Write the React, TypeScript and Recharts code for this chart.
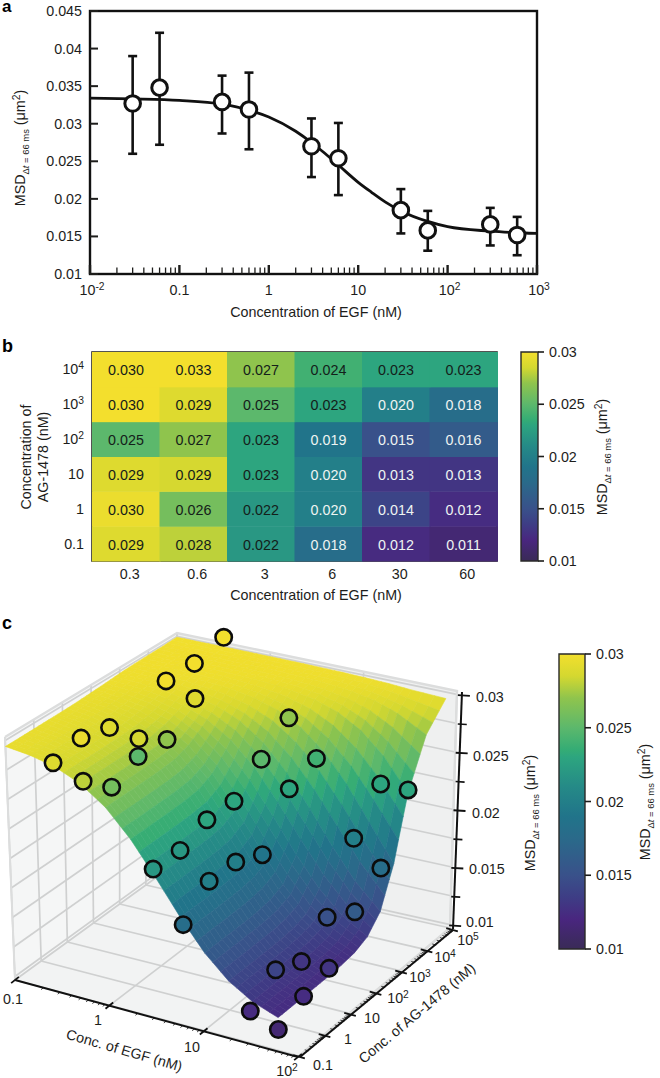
import React from 'react';
import { ComposedChart, BarChart, ScatterChart, Line, Bar, Scatter, XAxis, YAxis, ErrorBar, Customized } from 'recharts';

const FONT = '"Liberation Sans", Arial, sans-serif';
const INK = '#1d1d1b';

// ---------- Panel a ----------
const egfDose = [0.03, 0.06, 0.3, 0.6, 3, 6, 30, 60, 300, 600];
const msdMean = [0.0327, 0.0348, 0.0329, 0.0319, 0.027, 0.0254, 0.0185, 0.0158, 0.0166, 0.0152];
const msdHigh = [0.039, 0.0421, 0.0364, 0.0368, 0.0307, 0.0301, 0.0213, 0.0184, 0.0188, 0.0176];
const msdLow = [0.026, 0.0272, 0.0287, 0.0266, 0.0229, 0.0205, 0.0154, 0.0131, 0.0138, 0.0125];
const fitX = [0.01, 0.03, 0.1, 0.3, 0.6, 1, 2, 3, 4, 6, 10, 14, 20, 30, 60, 100, 300, 1000];
const fitY = [0.0334, 0.0333, 0.0331, 0.0326, 0.0318, 0.0309, 0.029, 0.0275, 0.0263, 0.0245, 0.0222, 0.0209, 0.0196, 0.0184, 0.017, 0.0163, 0.0157, 0.0154];
const aYTicks = [0.01, 0.015, 0.02, 0.025, 0.03, 0.035, 0.04, 0.045];
const aDecades = [0.01, 0.1, 1, 10, 100, 1000];
const aDecadeLabels: any = { 0.01: ['10', '-2'], 0.1: ['0.1'], 1: ['1'], 10: ['10'], 100: ['10', '2'], 1000: ['10', '3'] };
const minorFactors = [2, 3, 4, 5, 6, 7, 8, 9];
const aXTicks = [...aDecades, ...aDecades.slice(0, 5).flatMap((d) => minorFactors.map((m) => d * m))];

const pointsA = egfDose.map((x, i) => ({ x, y: msdMean[i], err: [msdMean[i] - msdLow[i], msdHigh[i] - msdMean[i]] }));
const curveA = fitX.map((x, i) => ({ x, y: fitY[i] }));

// ---------- Panel b ----------
const egfLabels = ['0.3', '0.6', '3', '6', '30', '60'];
const agKeys = ['ag01', 'ag1', 'ag10', 'ag100', 'ag1000', 'ag10000'];
const agLabels = [['0.1'], ['1'], ['10'], ['10', '2'], ['10', '3'], ['10', '4']];
const ag01 = [0.029, 0.028, 0.022, 0.018, 0.0123, 0.0114];
const ag1 = [0.0296, 0.026, 0.022, 0.02, 0.014, 0.0124];
const ag10 = [0.029, 0.0286, 0.023, 0.02, 0.013, 0.013];
const ag100 = [0.025, 0.027, 0.023, 0.019, 0.015, 0.016];
const ag1000 = [0.03, 0.029, 0.025, 0.023, 0.02, 0.018];
const ag10000 = [0.03, 0.0328, 0.027, 0.024, 0.023, 0.023];
const agRows = [ag01, ag1, ag10, ag100, ag1000, ag10000];
const heatTable = egfLabels.map((egf, c) => {
  const row: any = { egf, unit: 1 };
  agKeys.forEach((k, r) => (row[k] = agRows[r][c]));
  return row;
});
const heatYTicks = [0.5, 1.5, 2.5, 3.5, 4.5, 5.5];
const cbarTicks = [0.01, 0.015, 0.02, 0.025, 0.03];
const cbarRange = [{ name: 'scale', range: [0.01, 0.03] }];

const cmapValues = [0.01, 0.0105, 0.012, 0.0135, 0.015, 0.0175, 0.019, 0.021, 0.023, 0.0235, 0.025, 0.027, 0.0285, 0.03];
const cmapColors = ['#3a2a58', '#3d2a60', '#49267f', '#3e3d85', '#39518a', '#2a6a8a', '#21748a', '#258a87', '#2da57f', '#34ac75', '#5cb86c', '#8fc44d', '#d4d830', '#f3df2d'];

function hex(c: string) {
  return [1, 3, 5].map((i) => parseInt(c.slice(i, i + 2), 16));
}
function colorOf(z: number) {
  const v = Math.max(0.01, Math.min(0.03, z));
  let i = 0;
  while (i < cmapValues.length - 2 && v > cmapValues[i + 1]) i++;
  const t = (v - cmapValues[i]) / (cmapValues[i + 1] - cmapValues[i]);
  const a = hex(cmapColors[i]);
  const b = hex(cmapColors[i + 1]);
  return `rgb(${a.map((p, k) => Math.round(p + (b[k] - p) * t)).join(',')})`;
}

// ---------- Panel c ----------
const surfaceLogEgf = [-1, -0.75, -0.5, -0.25, 0, 0.25, 0.5, 0.75, 1, 1.25, 1.5, 1.778];
const surfaceLastLogEgf = [1.778, 1.778, 1.778, 1.778, 1.778, 1.778, 1.778, 1.778, 1.778, 1.778, 1.778, 1.82, 1.88];
const surfaceLogAg = [-1, -0.5, 0, 0.5, 1, 1.5, 2, 2.5, 3, 3.5, 4, 4.5, 5];
const surfaceZ = [
  [0.0295, 0.0292, 0.02867, 0.02773, 0.02622, 0.02404, 0.02134, 0.01854, 0.0161, 0.0143, 0.01313, 0.01236],
  [0.0295, 0.0292, 0.02868, 0.02774, 0.02624, 0.02406, 0.02136, 0.01856, 0.01612, 0.01431, 0.01313, 0.01236],
  [0.02951, 0.02921, 0.02868, 0.02775, 0.02626, 0.02409, 0.0214, 0.01858, 0.01613, 0.01432, 0.01314, 0.01236],
  [0.02952, 0.02922, 0.02869, 0.02777, 0.02629, 0.02413, 0.02143, 0.01862, 0.01616, 0.01433, 0.01315, 0.01237],
  [0.02953, 0.02923, 0.02871, 0.02781, 0.02634, 0.0242, 0.0215, 0.01868, 0.0162, 0.01436, 0.01317, 0.01238],
  [0.02956, 0.02927, 0.02877, 0.02789, 0.02646, 0.02435, 0.0217, 0.01889, 0.01638, 0.01449, 0.01325, 0.01243],
  [0.02963, 0.02936, 0.02895, 0.02818, 0.02691, 0.02495, 0.02236, 0.01951, 0.01689, 0.01485, 0.01349, 0.01258],
  [0.0297, 0.02953, 0.02922, 0.02868, 0.02775, 0.02625, 0.02408, 0.02138, 0.01858, 0.01614, 0.01433, 0.01304],
  [0.0298, 0.02972, 0.02955, 0.02927, 0.02877, 0.0279, 0.02646, 0.02432, 0.02168, 0.01885, 0.01636, 0.01432],
  [0.02985, 0.02982, 0.02976, 0.02967, 0.02947, 0.02912, 0.0285, 0.02744, 0.02577, 0.02342, 0.0206, 0.01752],
  [0.02987, 0.02986, 0.02984, 0.02981, 0.02975, 0.02964, 0.02943, 0.02905, 0.02838, 0.02724, 0.02547, 0.02273],
  [0.02988, 0.02987, 0.02987, 0.02986, 0.02984, 0.02981, 0.02975, 0.02963, 0.02941, 0.02902, 0.02833, 0.027],
  [0.02993, 0.02993, 0.02993, 0.02993, 0.02992, 0.02991, 0.02989, 0.02986, 0.0298, 0.02972, 0.02958, 0.02945],
];
const markerEgf = [0.3, 0.6, 3, 6, 30, 60];
const markerAg = [0.1, 1, 10, 100, 1000, 10000];
const zMajor = [0.01, 0.015, 0.02, 0.025, 0.03];
const zMinor = [0.0125, 0.0175, 0.0225, 0.0275];
const Z_LO = 0.0097;
const Z_HI = 0.0303;

const A = [15, 980], B = [299, 1056], C = [450, 928], D = [172, 866];
const At = [5, 737], Bt = [295, 800], Ct = [457, 691], Dt = [177, 633];
function bilin(p00: number[], p10: number[], p11: number[], p01: number[], u: number, v: number) {
  return [0, 1].map((k) => (1 - u) * (1 - v) * p00[k] + u * (1 - v) * p10[k] + u * v * p11[k] + (1 - u) * v * p01[k]);
}
function project(u: number, v: number, w: number) {
  const f = bilin(A, B, C, D, u, v);
  const t = bilin(At, Bt, Ct, Dt, u, v);
  return [f[0] + (t[0] - f[0]) * w, f[1] + (t[1] - f[1]) * w];
}
const uOf = (logE: number) => {
  const u = (logE + 1) / 3;
  return u + 0.035 * u * (1 - u);
};
const vOf = (logA: number) => (logA + 1) / 6;
const wOf = (z: number) => (z - Z_LO) / (Z_HI - Z_LO);

function buildFacets() {
  const out: any[] = [];
  const S = 3;
  const lastCol = surfaceLogEgf.length - 1;
  const egfAt = (r: number, c: number) => (c === lastCol ? surfaceLastLogEgf[r] : surfaceLogEgf[c]);
  for (let r = 0; r < surfaceLogAg.length - 1; r++) {
    for (let c = 0; c < lastCol; c++) {
      for (let a = 0; a < S; a++) {
        for (let b = 0; b < S; b++) {
          const at = (p: number, q: number) => {
            const tc = (b + p) / S;
            const tr = (a + q) / S;
            const z =
              (1 - tc) * (1 - tr) * surfaceZ[r][c] + tc * (1 - tr) * surfaceZ[r][c + 1] +
              tc * tr * surfaceZ[r + 1][c + 1] + (1 - tc) * tr * surfaceZ[r + 1][c];
            const e0 = egfAt(r, c) + tr * (egfAt(r + 1, c) - egfAt(r, c));
            const e1 = egfAt(r, c + 1) + tr * (egfAt(r + 1, c + 1) - egfAt(r, c + 1));
            const u = uOf(e0 + tc * (e1 - e0));
            const v = vOf(surfaceLogAg[r] + tr * (surfaceLogAg[r + 1] - surfaceLogAg[r]));
            return { z, u, v, p: project(u, v, wOf(z)) };
          };
          const q = [at(0, 0), at(1, 0), at(1, 1), at(0, 1)];
          out.push({
            x: q.reduce((s, e) => s + e.p[0], 0) / 4,
            y: q.reduce((s, e) => s + e.p[1], 0) / 4,
            z: q.reduce((s, e) => s + e.z, 0) / 4,
            depth: q.reduce((s, e) => s + e.v - e.u, 0),
            pts: q.map((e) => e.p),
          });
        }
      }
    }
  }
  return out.sort((m, n) => n.depth - m.depth);
}
const facets = buildFacets();
const markers3d = markerAg.flatMap((ag, r) =>
  markerEgf.map((egf, c) => {
    const z = agRows[r][c];
    const p = project(uOf(Math.log10(egf)), vOf(Math.log10(ag)), wOf(z));
    return { x: p[0], y: p[1], z };
  })
);

// ---------- Shared text ----------
function MsdLabel({ x, y, size = 14.3 }: any) {
  const small = size * 0.66;
  return (
    <text transform={`translate(${x},${y}) rotate(-90)`} textAnchor="middle" fontSize={size} fill={INK} fontFamily={FONT}>
      <tspan>MSD</tspan>
      <tspan dy={4} fontSize={small}>Δ</tspan>
      <tspan fontSize={small} fontStyle="italic">t</tspan>
      <tspan fontSize={small}> = 66 ms</tspan>
      <tspan dy={-4}> (μm</tspan>
      <tspan dy={-5} fontSize={size * 0.72}>2</tspan>
      <tspan dy={5}>)</tspan>
    </text>
  );
}
function PowerText({ x, y, parts, anchor = 'middle', size = 14.3, transform }: any) {
  return (
    <text x={x} y={y} textAnchor={anchor} fontSize={size} fill={INK} fontFamily={FONT} transform={transform}>
      <tspan>{parts[0]}</tspan>
      {parts[1] ? <tspan dy={-5} fontSize={size * 0.72}>{parts[1]}</tspan> : null}
    </text>
  );
}

// ---------- Panel a chart ----------
function AXTick({ x, y, payload }: any) {
  const v = payload.value;
  const labels = aDecadeLabels[v];
  const isMajor = !!labels;
  return (
    <g>
      <line x1={x} x2={x} y1={y} y2={y - (isMajor ? 9 : 6.5)} stroke={INK} strokeWidth={isMajor ? 2.4 : 1.3} />
      {isMajor ? <PowerText x={x + (labels[1] ? 2 : 0)} y={y + 21} parts={labels} /> : null}
    </g>
  );
}
function AYTick({ x, y, payload }: any) {
  return (
    <g>
      <line x1={x} x2={x + 8} y1={y} y2={y} stroke={INK} strokeWidth={2} />
      <text x={x - 8} y={y + 5} textAnchor="end" fontSize={14.3} fill={INK} fontFamily={FONT}>{payload.value}</text>
    </g>
  );
}
const Ring = ({ cx, cy }: any) => <circle cx={cx} cy={cy} r={7.8} fill="#fff" stroke="#111" strokeWidth={3} />;

function PanelA() {
  return (
    <div style={{ position: 'absolute', left: 0, top: 0 }}>
      <ComposedChart width={660} height={330} margin={{ top: 11, left: 30, right: 123, bottom: 26 }}>
        <XAxis dataKey="x" type="number" scale="log" domain={[0.01, 1000]} ticks={aXTicks} interval={0} allowDataOverflow height={30} tickLine={false} axisLine={false} tickSize={0} tickMargin={0} tick={AXTick} />
        <YAxis dataKey="y" type="number" domain={[0.01, 0.045]} ticks={aYTicks} interval={0} allowDataOverflow width={60} tickLine={false} axisLine={false} tickSize={0} tickMargin={0} tick={AYTick} />
        <Line data={curveA} dataKey="y" type="monotone" stroke="#111" strokeWidth={2.8} dot={false} isAnimationActive={false} />
        <Line data={pointsA} dataKey="y" stroke="none" dot={false} isAnimationActive={false}>
          <ErrorBar dataKey="err" direction="y" width={4.5} stroke="#111" strokeWidth={2.6} isAnimationActive={false} />
        </Line>
        <Line data={pointsA} dataKey="y" stroke="none" dot={<Ring />} isAnimationActive={false} />
        <Customized component={() => <rect x={90} y={11} width={447} height={263} fill="none" stroke="#111" strokeWidth={2.4} />} />
        <Customized component={() => <MsdLabel x={25} y={148} />} />
        <Customized component={() => <text x={316} y={317} textAnchor="middle" fontSize={14.3} fill={INK} fontFamily={FONT}>Concentration of EGF (nM)</text>} />
      </ComposedChart>
    </div>
  );
}

// ---------- Panel b chart ----------
function heatCell(key: string) {
  return ({ x, y, width, height, payload }: any) => {
    const z = payload[key];
    return (
      <g>
        <rect x={x} y={y} width={width + 0.5} height={height + 0.5} fill={colorOf(z)} />
        <text x={x + width / 2} y={y + height / 2 + 6} textAnchor="middle" fontSize={14.3} fontFamily={FONT} fill={z <= 0.0205 ? '#eef4f2' : '#14201a'}>{z.toFixed(3)}</text>
      </g>
    );
  };
}
function BXTick({ x, y, payload }: any) {
  return <text x={x + 4} y={y + 18} textAnchor="middle" fontSize={14.3} fill={INK} fontFamily={FONT}>{payload.value}</text>;
}
function BYTick({ x, y, index }: any) {
  return <PowerText x={x - 8} y={y + 5} parts={agLabels[index]} anchor="end" />;
}
function PanelB() {
  return (
    <div style={{ position: 'absolute', left: 0, top: 330 }}>
      <BarChart width={510} height={280} data={heatTable} barCategoryGap={0} barGap={0} margin={{ top: 22, left: 32, right: 13, bottom: 19 }}>
        <XAxis dataKey="egf" height={30} tickLine={false} axisLine={false} tickSize={0} tickMargin={0} tick={BXTick} interval={0} />
        <YAxis type="number" domain={[0, 6]} ticks={heatYTicks} interval={0} width={60} tickLine={false} axisLine={false} tickSize={0} tickMargin={0} tick={BYTick} />
        {agKeys.map((k) => (
          <Bar key={k} dataKey="unit" stackId="heat" isAnimationActive={false} shape={heatCell(k)} />
        ))}
        <Customized component={() => <rect x={92} y={22} width={405} height={209} fill="none" stroke="#2a2a28" strokeWidth={1.6} />} />
        <Customized component={() => <text x={316} y={270} textAnchor="middle" fontSize={14.3} fill={INK} fontFamily={FONT}>Concentration of EGF (nM)</text>} />
        <Customized component={() => (
          <text transform="translate(31,127) rotate(-90)" textAnchor="middle" fontSize={14.3} fill={INK} fontFamily={FONT}>Concentration of</text>
        )} />
        <Customized component={() => (
          <text transform="translate(48,127) rotate(-90)" textAnchor="middle" fontSize={14.3} fill={INK} fontFamily={FONT}>AG-1478 (nM)</text>
        )} />
      </BarChart>
    </div>
  );
}

// ---------- Colour bars ----------
function ColorBar({ id, left, top, w, h, margin, label }: any) {
  return (
    <div style={{ position: 'absolute', left, top }}>
      <BarChart width={w} height={h} data={cbarRange} barCategoryGap={0} margin={margin}>
        <defs>
          <linearGradient id={id} x1="0" y1="1" x2="0" y2="0">
            {cmapValues.map((v, i) => (
              <stop key={v} offset={(v - 0.01) / 0.02} stopColor={cmapColors[i]} />
            ))}
          </linearGradient>
        </defs>
        <XAxis dataKey="name" hide />
        <YAxis orientation="right" type="number" domain={[0.01, 0.03]} ticks={cbarTicks} interval={0} width={60} axisLine={false} tickLine={{ stroke: INK, strokeWidth: 1.6 }} tickSize={6} tickMargin={5} tick={{ fontSize: 14.3, fill: INK, fontFamily: FONT }} />
        <Bar dataKey="range" fill={`url(#${id})`} stroke="#2a2a28" strokeWidth={1.4} isAnimationActive={false} />
        <Customized component={() => <MsdLabel x={label[0]} y={label[1]} />} />
      </BarChart>
    </div>
  );
}

// ---------- Panel c chart ----------
const pts = (list: number[][]) => list.map((p) => p.join(',')).join(' ');
const GRID = '#cfd0d0';

function Walls() {
  const lines: any[] = [];
  const seg = (a: number[], b: number[], key: string, stroke = GRID, sw = 1.7) =>
    lines.push(<line key={key} x1={a[0]} y1={a[1]} x2={b[0]} y2={b[1]} stroke={stroke} strokeWidth={sw} />);
  for (let k = 0; k <= 3; k++) seg(project(k / 3, 0, 0), project(k / 3, 1, 0), `fu${k}`);
  for (let k = 0; k <= 6; k++) seg(project(0, k / 6, 0), project(1, k / 6, 0), `fv${k}`);
  for (let k = 0; k <= 6; k++) seg(project(0, k / 6, 0), project(0, k / 6, 1), `lv${k}`);
  for (let k = 0; k <= 3; k++) seg(project(k / 3, 1, 0), project(k / 3, 1, 1), `bu${k}`);
  [...zMajor, ...zMinor].forEach((z) => {
    const w = wOf(z);
    seg(project(0, 0, w), project(0, 1, w), `lz${z}`);
    seg(project(0, 1, w), project(1, 1, w), `bz${z}`);
  });
  return (
    <g>
      <polygon points={pts([A, D, Dt, At])} fill="#f5f6f6" />
      <polygon points={pts([D, C, Ct, Dt])} fill="#eff0f0" />
      <polygon points={pts([A, B, C, D])} fill="#f2f3f3" />
      {lines}
      <polyline points={pts([At, Dt, Ct, C])} fill="none" stroke="#dcdddd" strokeWidth={2.4} />
      <line x1={B[0]} y1={B[1]} x2={C[0]} y2={C[1]} stroke="#dcdddd" strokeWidth={2.4} />
      <line x1={A[0]} y1={A[1]} x2={At[0]} y2={At[1]} stroke="#dcdddd" strokeWidth={2} />
    </g>
  );
}
function Axes3d() {
  const els: any[] = [];
  const egfEnd = [298, 1057];
  const agStart = [300, 1057];
  const agEnd = [453, 930];
  const ink = '#111';
  const along = (a: number[], b: number[], t: number) => [a[0] + (b[0] - a[0]) * t, a[1] + (b[1] - a[1]) * t];
  const tick = (p: number[], d: number[], l0: number, l1: number, sw: number, key: string) =>
    els.push(<line key={key} x1={p[0] - d[0] * l0} y1={p[1] - d[1] * l0} x2={p[0] + d[0] * l1} y2={p[1] + d[1] * l1} stroke={ink} strokeWidth={sw} />);
  els.push(<line key="egf" x1={A[0]} y1={A[1]} x2={egfEnd[0]} y2={egfEnd[1]} stroke={ink} strokeWidth={2} />);
  els.push(<line key="ag" x1={agStart[0]} y1={agStart[1]} x2={agEnd[0]} y2={agEnd[1]} stroke={ink} strokeWidth={2} />);
  for (let k = 0; k <= 3; k++) {
    tick(along(A, egfEnd, k / 3), [0.77, -0.63], 5, 5, 1.8, `em${k}`);
    if (k < 3) minorFactors.forEach((m) => tick(along(A, egfEnd, (k + Math.log10(m)) / 3), [0.77, -0.63], 3, 0, 0.8, `en${k}${m}`));
  }
  for (let k = 0; k <= 6; k++) {
    tick(along(agStart, agEnd, k / 6), [0.97, 0.26], 7, 5, 1.8, `am${k}`);
    if (k < 6) minorFactors.forEach((m) => tick(along(agStart, agEnd, (k + Math.log10(m)) / 6), [0.97, 0.26], 3, 1, 0.8, `an${k}${m}`));
  }
  const zAt = (z: number) => {
    const w = wOf(z);
    return [453 + 9 * w, 929 - 237 * w];
  };
  els.push(<line key="z" x1={453} y1={929} x2={462} y2={692} stroke={ink} strokeWidth={2} />);
  zMajor.forEach((z) => tick(zAt(z), [1, 0.06], 4, 8, 1.8, `zm${z}`));
  zMinor.forEach((z) => tick(zAt(z), [1, 0.06], 3, 6, 1.6, `zn${z}`));
  return <g>{els}</g>;
}
const Facet = ({ cx, cy, payload }: any) => (
  <polygon
    points={payload.pts.map((p: number[]) => `${p[0] - payload.x + cx},${p[1] - payload.y + cy}`).join(' ')}
    fill={colorOf(payload.z)}
    stroke={colorOf(payload.z)}
    strokeWidth={0.6}
  />
);
const Marker3d = ({ cx, cy, payload }: any) => <circle cx={cx} cy={cy} r={8.2} fill={colorOf(payload.z)} stroke="#0c0c0c" strokeWidth={2.6} />;

function Labels3d() {
  const egfTickText = [[13, 1004, ['0.1']], [98, 1025, ['1']], [192, 1052, ['10']], [287, 1076, ['10', '2']]] as any[];
  const agTickText = [[323, 1070, ['0.1']], [348, 1044, ['1']], [372, 1023, ['10']], [398, 1003, ['10', '2']], [420, 982, ['10', '3']], [445, 962, ['10', '4']], [468, 945, ['10', '5']]] as any[];
  const zText = [[476, 702, '0.03'], [473, 761, '0.025'], [472, 818, '0.02'], [469, 874, '0.015'], [466, 927, '0.01']] as any[];
  return (
    <g>
      {egfTickText.map((t) => <PowerText key={t[0]} x={t[0]} y={t[1]} parts={t[2]} />)}
      {agTickText.map((t) => <PowerText key={t[0]} x={t[0]} y={t[1]} parts={t[2]} />)}
      {zText.map((t) => <text key={t[2]} x={t[0]} y={t[1]} fontSize={14.3} fill={INK} fontFamily={FONT}>{t[2]}</text>)}
      <text transform="translate(123,1055) rotate(16)" textAnchor="middle" fontSize={14.3} fill={INK} fontFamily={FONT}>Conc. of EGF (nM)</text>
      <text transform="translate(420,1017) rotate(-40)" textAnchor="middle" fontSize={14.3} fill={INK} fontFamily={FONT}>Conc. of AG-1478 (nM)</text>
      <MsdLabel x={535} y={813} />
    </g>
  );
}
function PanelC() {
  return (
    <div style={{ position: 'absolute', left: 0, top: 0 }}>
      <ScatterChart width={660} height={1078} margin={{ top: 0, left: 0, right: 0, bottom: 0 }}>
        <XAxis dataKey="x" type="number" domain={[0, 660]} hide />
        <YAxis dataKey="y" type="number" domain={[0, 1078]} reversed hide />
        <Customized component={Walls} />
        <Scatter data={facets} shape={Facet} isAnimationActive={false} />
        <Customized component={Axes3d} />
        <Scatter data={markers3d} shape={Marker3d} isAnimationActive={false} />
        <Customized component={Labels3d} />
      </ScatterChart>
    </div>
  );
}

const letter = (t: string, top: number, size = 18, lh = 18) => (
  <div style={{ position: 'absolute', left: 2, top, font: `bold ${size}px ${FONT}`, color: '#000', lineHeight: `${lh}px` }}>{t}</div>
);

export default function App() {
  return (
    <div style={{ position: 'absolute', left: 0, top: 0, width: 660, height: 1078, background: '#fff', fontFamily: FONT, overflow: 'hidden' }}>
      <PanelC />
      <PanelA />
      <PanelB />
      <ColorBar id="cbB" left={500} top={340} w={160} h={240} margin={{ top: 12, left: 21, right: 62, bottom: 19 }} label={[107, 117]} />
      <ColorBar id="cbC" left={540} top={640} w={120} h={320} margin={{ top: 14, left: 19, right: 15, bottom: 11 }} label={[110, 162]} />
      {letter('a', 0, 17, 13)}
      {letter('b', 337)}
      {letter('c', 614)}
    </div>
  );
}
